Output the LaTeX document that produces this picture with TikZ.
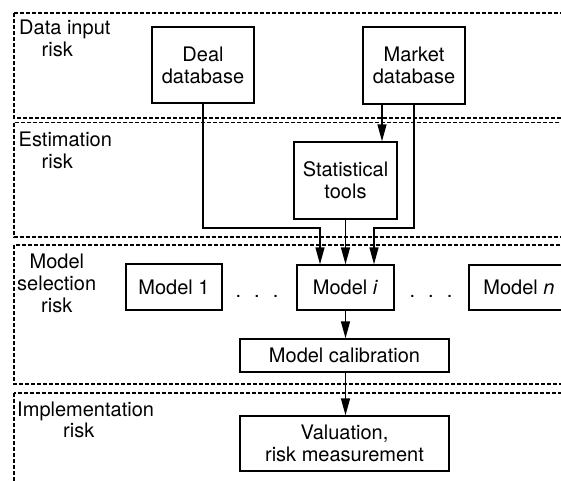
\documentclass[tikz,border=0pt]{standalone}
\usepackage{fontspec}
\setmainfont{TeX Gyre Heros}
\usetikzlibrary{arrows.meta}
\begin{document}
\begin{tikzpicture}[x=1pt,y=-1pt,
  every node/.style={font=\fontsize{20}{22}\selectfont},
  band/.style={draw, line width=1.1pt, dash pattern=on 4pt off 2pt},
  box/.style={draw, line width=1.4pt, inner sep=0pt, align=center},
  lbl/.style={anchor=base west, inner sep=0pt},
  arr/.style={line width=1.4pt, -{Triangle[length=17pt,width=9pt]}},
  ln/.style={line width=1.4pt}]
\useasboundingbox (0,0) rectangle (561,480);
\fill[white] (0,0) rectangle (561,480);
\clip (0,0) rectangle (561,480);
% bands
\draw[band] (14,13) rectangle (580,118);
\draw[band] (14,122.5) rectangle (580,237);
\draw[band] (14,245) rectangle (580,384);
\draw[band] (14,393) rectangle (580,500);
% labels
\node[lbl] (l1a) at (19,34) {Data input};
\node[lbl] (l1b) at (41.5,56.5) {risk};
\node[lbl] (l2a) at (18.5,146.5) {Estimation};
\node[lbl] (l2b) at (41.5,168) {risk};
\node[lbl] (l3a) at (29.5,268) {Model};
\node[lbl] (l3b) at (17,290.5) {selection};
\node[lbl] (l3c) at (41,312.5) {risk};
\node[lbl] (l4a) at (17,416) {Implementation};
\node[lbl] (l4b) at (63,437.5) {risk};
% boxes
\node[box, minimum width=102pt, minimum height=76pt] (deal) at (203,65) {Deal\\database};
\node[box, minimum width=102pt, minimum height=77pt] (mkt) at (414,65.5) {Market\\database};
\node[box, minimum width=103pt, minimum height=77pt] (stats) at (345.5,180.5) {Statistical\\tools};
\node[box, minimum width=96pt, minimum height=46pt] (m1) at (174,287) {Model 1};
\node[box, minimum width=97pt, minimum height=45pt] (modi) at (345.5,287.5) {Model \textit{i}};
\node[box, minimum width=100pt, minimum height=45pt] (mn) at (519,287.5) {Model \textit{n}};
\node[box, minimum width=209pt, minimum height=33pt] (cal) at (344.5,355.5) {Model calibration};
\node[box, minimum width=209pt, minimum height=55pt] (val) at (344.5,443.5) {Valuation,\\risk measurement};
% dots
\node[inner sep=0pt, anchor=base] (d1) at (257,297) {.\hspace{13pt}.\hspace{13pt}.};
\node[inner sep=0pt, anchor=base] (d2) at (431,297) {.\hspace{13pt}.\hspace{13pt}.};
% connectors
\coordinate (ja) at (320,228);
\coordinate (jb) at (374,228);
\draw[arr] (deal.south) |- (ja) -- (ja |- modi.north);
\draw[arr] ([xshift=-32pt]mkt.south) -- ([xshift=-32pt]mkt.south |- stats.north);
\draw[arr] (mkt.south) |- (jb) -- (jb |- modi.north);
\draw[arr] (stats.south) -- (modi.north);
\draw[arr] (modi.south) -- (modi.south |- cal.north);
\draw[arr] (cal.south -| modi.south) -- (modi.south |- val.north);
\end{tikzpicture}
\end{document}
